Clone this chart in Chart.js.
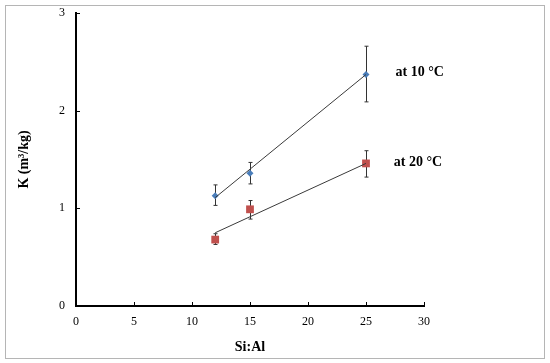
<!DOCTYPE html>
<html>
<head>
<meta charset="utf-8">
<script src="https://cdn.jsdelivr.net/npm/chart.js@4.4.0/dist/chart.umd.min.js"></script>
<style>
  html, body { margin: 0; padding: 0; background: #fff; }
  #wrap { position: relative; width: 550px; height: 363px; }
  #frame { position: absolute; left: 5px; top: 5px; width: 538px; height: 352px; border: 1px solid #b5b5b5; pointer-events: none; }
</style>
</head>
<body>
<div id="wrap">
  <canvas id="chart" width="550" height="363"></canvas>
  <div id="frame"></div>
</div>
<script>
// Si:Al ratios and K values
const siAl = [12, 15, 25];
const k10 = [1.13, 1.36, 2.37];
const k10Low = [1.03, 1.25, 2.09];
const k10High = [1.24, 1.47, 2.66];
const k20 = [0.68, 0.99, 1.46];
const k20Low = [0.63, 0.89, 1.32];
const k20High = [0.74, 1.08, 1.59];
// linear trend lines (end points)
const trendX = [12, 25];
const trend10 = [1.11, 2.37];
const trend20 = [0.75, 1.46];
const xTicks = [0, 5, 10, 15, 20, 25, 30];
const yTicks = [0, 1, 2, 3];

const pts = (xs, ys) => xs.map((x, i) => ({ x: x, y: ys[i] }));
const serif = '"Liberation Serif", "Times New Roman", serif';

// error bars, inside tick marks and the series labels
const extras = {
    id: 'extras',
    beforeDatasetsDraw(chart) {
        const { ctx, scales: { x, y } } = chart;
        ctx.save();
        ctx.strokeStyle = '#333';
        ctx.lineWidth = 1;
        [[k10Low, k10High], [k20Low, k20High]].forEach(([lo, hi]) => {
            siAl.forEach((v, i) => {
                const px = Math.round(x.getPixelForValue(v)) + 0.5;
                const y1 = y.getPixelForValue(lo[i]);
                const y2 = y.getPixelForValue(hi[i]);
                ctx.beginPath();
                ctx.moveTo(px, y1); ctx.lineTo(px, y2);
                ctx.moveTo(px - 2, y1); ctx.lineTo(px + 2, y1);
                ctx.moveTo(px - 2, y2); ctx.lineTo(px + 2, y2);
                ctx.stroke();
            });
        });
        ctx.restore();
    },
    afterDraw(chart) {
        const { ctx, scales: { x, y } } = chart;
        ctx.save();
        ctx.strokeStyle = '#000';
        ctx.lineWidth = 1;
        const y0 = y.getPixelForValue(0);
        const x0 = x.getPixelForValue(0);
        xTicks.forEach(v => {
            const px = Math.round(x.getPixelForValue(v)) + 0.5;
            ctx.beginPath(); ctx.moveTo(px, y0 + 1); ctx.lineTo(px, y0 - 4); ctx.stroke();
        });
        yTicks.forEach(v => {
            const py = Math.round(y.getPixelForValue(v)) + 0.5;
            ctx.beginPath(); ctx.moveTo(x0 - 1, py); ctx.lineTo(x0 + 4, py); ctx.stroke();
        });
        ctx.fillStyle = '#000';
        ctx.font = 'bold 14px ' + serif;
        ctx.textBaseline = 'middle';
        ctx.fillText('at 10 °C', x.getPixelForValue(27.55), y.getPixelForValue(k10[2]) - 2);
        ctx.fillText('at 20 °C', x.getPixelForValue(27.4), y.getPixelForValue(k20[2]) - 1);
        ctx.restore();
    }
};

new Chart(document.getElementById('chart'), {
    type: 'scatter',
    data: {
        datasets: [
            { label: 'trend 10', data: pts(trendX, trend10), showLine: true, borderColor: '#3a3a3a', borderWidth: 1, pointRadius: 0 },
            { label: 'trend 20', data: pts(trendX, trend20), showLine: true, borderColor: '#3a3a3a', borderWidth: 1, pointRadius: 0 },
            { label: 'at 10 °C', data: pts(siAl, k10), pointStyle: 'rectRot', pointRadius: 3.5, backgroundColor: '#4a7ebb', borderColor: '#4a7ebb', borderWidth: 0 },
            { label: 'at 20 °C', data: pts(siAl, k20), pointStyle: 'rect', pointRadius: 5.5, backgroundColor: '#c0504d', borderColor: '#c0504d', borderWidth: 0 }
        ]
    },
    options: {
        responsive: false,
        animation: false,
        layout: { padding: { left: 0, right: 126, top: 13, bottom: 0 } },
        plugins: { legend: { display: false }, tooltip: { enabled: false } },
        scales: {
            x: {
                type: 'linear', min: 0, max: 30,
                afterFit: s => { s.height = 57; },
                afterBuildTicks: s => { s.ticks = xTicks.map(v => ({ value: v })); },
                grid: { display: false },
                border: { display: true, color: '#000', width: 2 },
                ticks: { color: '#000', font: { family: serif, size: 12 }, padding: 1 },
                title: { display: true, text: 'Si:Al', color: '#000', font: { family: serif, size: 14, weight: 'bold' }, padding: { top: 3, bottom: 7 } }
            },
            y: {
                min: 0, max: 3,
                afterFit: s => { s.width = 76; },
                afterBuildTicks: s => { s.ticks = yTicks.map(v => ({ value: v })); },
                grid: { display: false },
                border: { display: true, color: '#000', width: 2 },
                ticks: { color: '#000', font: { family: serif, size: 12 }, padding: 3 },
                title: { display: true, text: 'K (m³/kg)', color: '#000', font: { family: serif, size: 14, weight: 'bold' }, padding: { top: 16, bottom: 8 } }
            }
        }
    },
    plugins: [extras]
});
</script>
</body>
</html>
